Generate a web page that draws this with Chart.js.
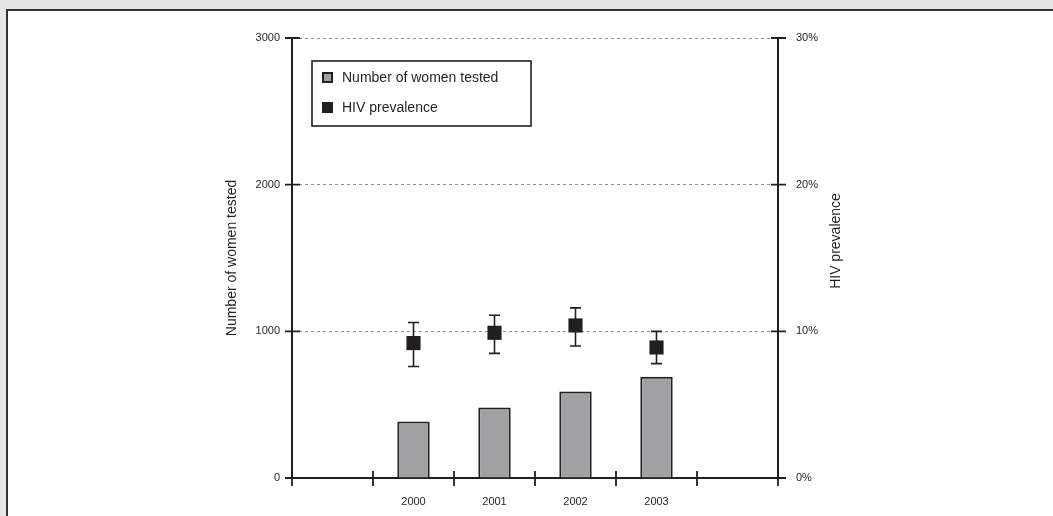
<!DOCTYPE html>
<html>
<head>
<meta charset="utf-8">
<script src="https://cdn.jsdelivr.net/npm/chart.js@4.4.0/dist/chart.umd.min.js"></script>
<style>
  html, body { margin: 0; padding: 0; background: #e6e7e8; }
  #panel { position: absolute; left: 6px; top: 9px; width: 1060px; height: 520px;
           background: #fff; border-left: 2px solid #333; border-top: 2px solid #333; }
  #hivChart { position: absolute; left: 0; top: 0; }
</style>
</head>
<body>
<div id="panel"></div>
<canvas id="hivChart" width="1053" height="516"></canvas>
<script>
// chart data
const years = ['', '2000', '2001', '2002', '2003', ''];
const womenTested = [null, 385, 480, 590, 690, null];
const hivPrevalence = [null, 9.2, 9.9, 10.4, 8.9, null];
const hivLower = [null, 7.6, 8.5, 9.0, 7.8, null];
const hivUpper = [null, 10.6, 11.1, 11.6, 10.0, null];
const leftTicks = [0, 1000, 2000, 3000];
const rightTicks = [0, 10, 20, 30];

const dark = '#231f20';
const fontName = '"Liberation Sans", Arial, sans-serif';

// error bars for the prevalence points
const errorBars = {
    id: 'errorBars',
    beforeDatasetsDraw(chart) {
        const ctx = chart.ctx;
        const x = chart.scales.x;
        const y1 = chart.scales.y1;
        ctx.save();
        ctx.strokeStyle = dark;
        ctx.lineWidth = 1.6;
        for (let i = 0; i < years.length; i++) {
            if (hivLower[i] == null) continue;
            const px = x.getPixelForValue(i);
            const top = y1.getPixelForValue(hivUpper[i]);
            const bot = y1.getPixelForValue(hivLower[i]);
            ctx.beginPath();
            ctx.moveTo(px, top); ctx.lineTo(px, bot);
            ctx.moveTo(px - 5.5, top); ctx.lineTo(px + 5.5, top);
            ctx.moveTo(px - 5.5, bot); ctx.lineTo(px + 5.5, bot);
            ctx.stroke();
        }
        ctx.restore();
    }
};

// crossing tick marks, axis titles and boxed legend
const decorations = {
    id: 'decorations',
    afterDraw(chart) {
        const ctx = chart.ctx;
        const x = chart.scales.x;
        const y = chart.scales.y;
        const y1 = chart.scales.y1;
        const area = chart.chartArea;
        ctx.save();
        ctx.strokeStyle = dark;
        ctx.lineWidth = 1.8;
        ctx.beginPath();
        leftTicks.forEach(v => {
            const py = y.getPixelForValue(v);
            ctx.moveTo(area.left - 7, py); ctx.lineTo(area.left + 8, py);
        });
        rightTicks.forEach(v => {
            const py = y1.getPixelForValue(v);
            ctx.moveTo(area.right - 7, py); ctx.lineTo(area.right + 8, py);
        });
        for (let i = 0; i <= years.length; i++) {
            const px = x.getPixelForValue(i - 0.5);
            ctx.moveTo(px, area.bottom - 7); ctx.lineTo(px, area.bottom + 8);
        }
        ctx.stroke();

        // axis titles
        ctx.fillStyle = dark;
        ctx.font = '14px ' + fontName;
        ctx.textAlign = 'center';
        ctx.textBaseline = 'middle';
        ctx.save();
        ctx.translate(232, (area.top + area.bottom) / 2);
        ctx.rotate(-Math.PI / 2);
        ctx.fillText('Number of women tested', 0, 0);
        ctx.restore();
        ctx.save();
        ctx.translate(836, 241);
        ctx.rotate(-Math.PI / 2);
        ctx.fillText('HIV prevalence', 0, 0);
        ctx.restore();

        // legend
        ctx.fillStyle = '#fff';
        ctx.fillRect(312, 61, 219, 65);
        ctx.lineWidth = 1.6;
        ctx.strokeRect(312, 61, 219, 65);
        const items = chart.data.datasets;
        const rows = [78, 108];
        ctx.textAlign = 'left';
        items.forEach((ds, i) => {
            ctx.fillStyle = dark;
            ctx.fillRect(322, rows[i] - 6, 11, 11);
            if (i === 0) {
                ctx.fillStyle = ds.backgroundColor;
                ctx.fillRect(324, rows[i] - 4, 7, 7);
            }
            ctx.fillStyle = dark;
            ctx.fillText(ds.label, 342, rows[i]);
        });
        ctx.restore();
    }
};

new Chart(document.getElementById('hivChart'), {
    data: {
        labels: years,
        datasets: [
            {
                type: 'bar',
                label: 'Number of women tested',
                data: womenTested,
                yAxisID: 'y',
                backgroundColor: '#a1a1a4',
                borderColor: dark,
                borderWidth: 2,
                borderSkipped: 'bottom',
                barPercentage: 0.4,
                categoryPercentage: 1,
                order: 2
            },
            {
                type: 'line',
                label: 'HIV prevalence',
                data: hivPrevalence,
                yAxisID: 'y1',
                showLine: false,
                pointStyle: 'rect',
                pointRadius: 10,
                pointHoverRadius: 10,
                backgroundColor: dark,
                borderColor: dark,
                borderWidth: 0,
                order: 1
            }
        ]
    },
    options: {
        responsive: false,
        animation: false,
        layout: { padding: { top: 38, left: 0, right: 0, bottom: 0 } },
        plugins: { legend: { display: false }, tooltip: { enabled: false } },
        scales: {
            x: {
                type: 'category',
                offset: true,
                afterFit: s => { s.height = 38; },
                grid: { display: false },
                border: { display: true, color: dark, width: 2 },
                ticks: { color: dark, font: { family: fontName, size: 11 }, padding: 9, maxRotation: 0, autoSkip: false }
            },
            y: {
                position: 'left',
                min: 0, max: 3000,
                afterFit: s => { s.width = 292; },
                afterBuildTicks: s => { s.ticks = leftTicks.map(v => ({ value: v })); },
                grid: {
                    drawTicks: false,
                    color: ctx => ctx.tick && ctx.tick.value === 0 ? 'rgba(0,0,0,0)' : '#8f8f8f',
                    lineWidth: 1
                },
                border: { display: true, color: dark, width: 2, dash: [3, 3] },
                ticks: { color: dark, font: { family: fontName, size: 11 }, padding: 12, callback: v => String(v) }
            },
            y1: {
                position: 'right',
                min: 0, max: 30,
                afterFit: s => { s.width = 275; },
                afterBuildTicks: s => { s.ticks = rightTicks.map(v => ({ value: v })); },
                grid: { display: false, drawTicks: false },
                border: { display: true, color: dark, width: 2 },
                ticks: { color: dark, font: { family: fontName, size: 11 }, padding: 18, callback: v => v + '%' }
            }
        }
    },
    plugins: [errorBars, decorations]
});
</script>
</body>
</html>
